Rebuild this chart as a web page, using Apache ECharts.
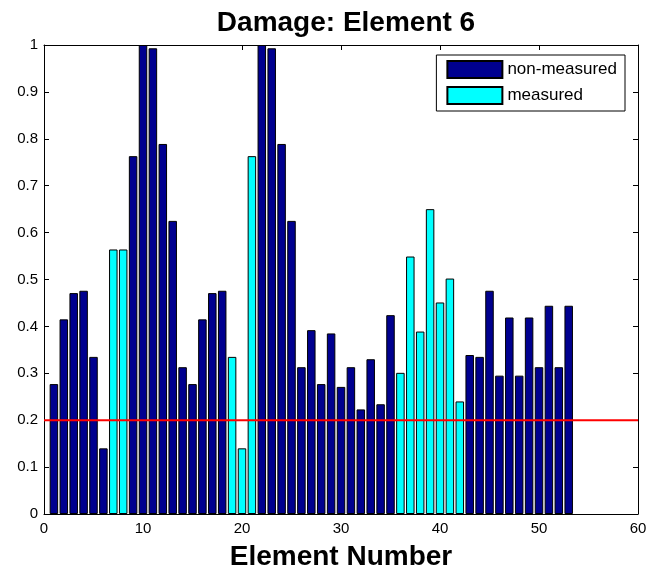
<!DOCTYPE html>
<html>
<head>
<meta charset="utf-8">
<script src="https://cdn.jsdelivr.net/npm/echarts@6/dist/echarts.min.js"></script>
<style>
  html, body { margin: 0; padding: 0; background: #fff; }
  #chart { width: 648px; height: 569px; }
</style>
</head>
<body>
<div id="chart"></div>
<script>
// Damage index per element (elements 1..53)
const elements = [
  1, 2, 3, 4, 5, 6, 7, 8, 9, 10,
  11, 12, 13, 14, 15, 16, 17, 18, 19, 20,
  21, 22, 23, 24, 25, 26, 27, 28, 29, 30,
  31, 32, 33, 34, 35, 36, 37, 38, 39, 40,
  41, 42, 43, 44, 45, 46, 47, 48, 49, 50,
  51, 52, 53
];
const damage = [
  0.277, 0.415, 0.471, 0.476, 0.335, 0.140, 0.564, 0.564, 0.763, 1.000,
  0.993, 0.789, 0.625, 0.313, 0.277, 0.415, 0.471, 0.476, 0.335, 0.140,
  0.763, 1.000, 0.993, 0.789, 0.625, 0.313, 0.392, 0.277, 0.385, 0.271,
  0.313, 0.223, 0.330, 0.234, 0.424, 0.301, 0.549, 0.389, 0.650, 0.451,
  0.502, 0.240, 0.339, 0.335, 0.476, 0.295, 0.419, 0.295, 0.419, 0.313,
  0.444, 0.313, 0.444
];
// Elements carrying a sensor
const measuredElements = [7, 8, 19, 20, 21, 36, 37, 38, 39, 40, 41, 42];
// Detection threshold
const threshold = 0.2;
const xRange = [0, 60];
const yRange = [0, 1];

const nonMeasuredData = [];
const measuredData = [];
elements.forEach((el, i) => {
  if (measuredElements.includes(el)) measuredData.push([el, damage[i]]);
  else nonMeasuredData.push([el, damage[i]]);
});

const font = 'Arial, "Liberation Sans", Helvetica, sans-serif';
const tickLabel = { color: '#000', fontSize: 15, fontFamily: font };
const axisLine = { show: true, onZero: false, lineStyle: { color: '#000', width: 1 } };
const tick = { show: true, inside: true, length: 5, lineStyle: { color: '#000' } };

const chart = echarts.init(document.getElementById('chart'), null, { renderer: 'canvas' });
chart.setOption({
  animation: false,
  backgroundColor: '#fff',
  title: {
    text: 'Damage: Element 6',
    left: 341, top: 4, textAlign: 'center',
    textStyle: { fontSize: 28, fontWeight: 'bold', color: '#000', fontFamily: font }
  },
  grid: { left: 44, right: 10, top: 45, bottom: 55, containLabel: false, outerBoundsMode: 'none' },
  legend: {
    orient: 'vertical',
    right: 23, top: 55,
    padding: [5, 8, 6, 10],
    itemGap: 7,
    itemWidth: 55, itemHeight: 17,
    icon: 'rect',
    backgroundColor: '#fff',
    borderColor: '#000', borderWidth: 1,
    textStyle: { fontSize: 17, color: '#000', fontFamily: font },
    data: ['non-measured', 'measured']
  },
  xAxis: [{
    type: 'value', min: xRange[0], max: xRange[1], interval: 10,
    name: 'Element Number', nameLocation: 'middle', nameGap: 29,
    nameTextStyle: { fontSize: 28, fontWeight: 'bold', color: '#000', fontFamily: font },
    axisLine, axisTick: tick,
    axisLabel: Object.assign({ margin: 7 }, tickLabel),
    splitLine: { show: false }
  }, {
    type: 'value', position: 'top', min: xRange[0], max: xRange[1], interval: 10,
    axisLine, axisTick: tick, axisLabel: { show: false }, splitLine: { show: false }
  }],
  yAxis: [{
    type: 'value', min: yRange[0], max: yRange[1], interval: 0.1,
    axisLine, axisTick: tick,
    axisLabel: Object.assign({ margin: 6 }, tickLabel),
    splitLine: { show: false }
  }, {
    type: 'value', position: 'right', min: yRange[0], max: yRange[1], interval: 0.1,
    axisLine, axisTick: tick, axisLabel: { show: false }, splitLine: { show: false }
  }],
  series: [{
    name: 'non-measured', type: 'bar',
    data: nonMeasuredData,
    barWidth: 8.5, barGap: '-100%',
    itemStyle: { color: '#00008F', borderColor: '#000', borderWidth: 1 }
  }, {
    name: 'measured', type: 'bar',
    data: measuredData,
    barWidth: 8.5, barGap: '-100%',
    itemStyle: { color: '#00FFFF', borderColor: '#000', borderWidth: 1 }
  }, {
    name: 'threshold', type: 'line',
    data: [[xRange[0], threshold], [xRange[1], threshold]],
    symbol: 'none', z: 5,
    lineStyle: { color: '#FF0000', width: 2 }
  }]
});
</script>
</body>
</html>
